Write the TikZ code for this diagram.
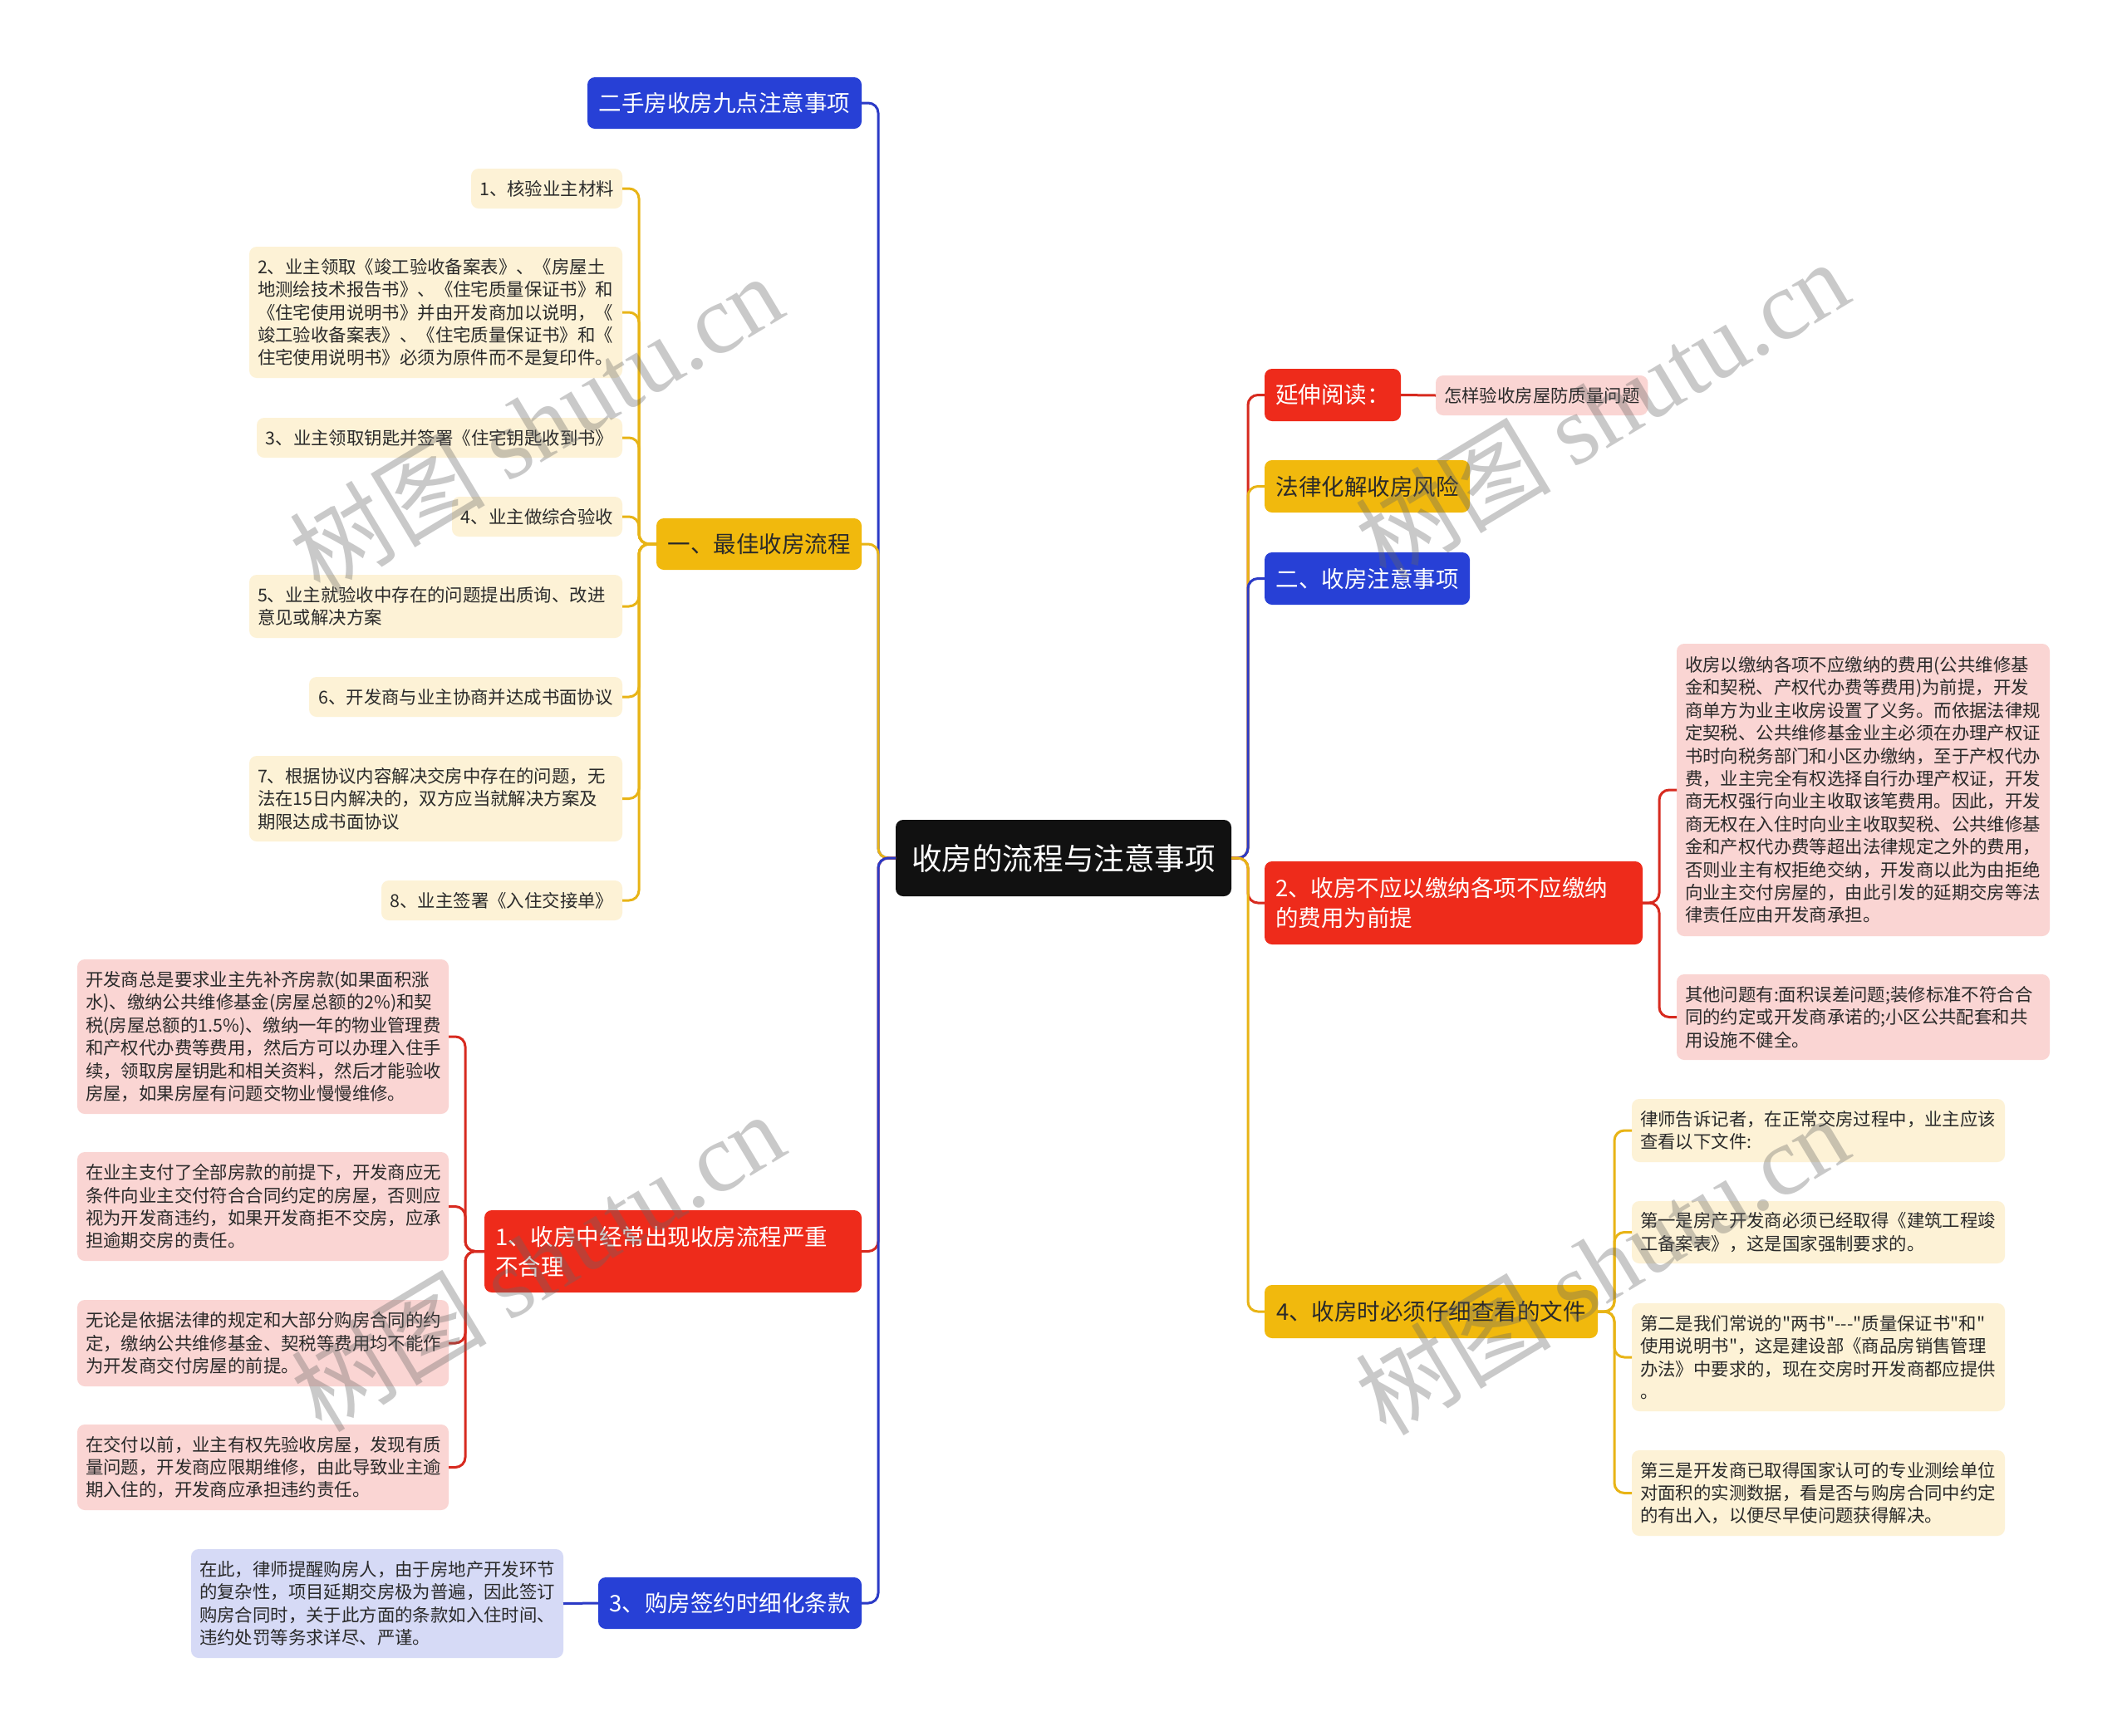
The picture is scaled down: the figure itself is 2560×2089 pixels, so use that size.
\documentclass[tikz,border=0pt]{standalone}
\usepackage{fontspec}
\setmainfont{Noto Sans CJK SC}
\newfontfamily\cjk{Noto Sans CJK SC}
\newfontfamily\wmfont{Liberation Serif}
\definecolor{cBlue}{HTML}{2740D6}
\definecolor{cRed}{HTML}{EE2B1B}
\definecolor{cYel}{HTML}{F1B90D}
\definecolor{lYel}{HTML}{FDF2D6}
\definecolor{lPink}{HTML}{FAD5D3}
\definecolor{lLav}{HTML}{D6DAF6}
\definecolor{cBlack}{HTML}{111111}
\definecolor{lnBlue}{HTML}{2B3AC6}
\definecolor{lnRed}{HTML}{D72A1F}
\definecolor{lnYel}{HTML}{E8B416}
\definecolor{txtD}{HTML}{2A2A2A}
\tikzset{
  nd/.style={rounded corners=9pt, inner ysep=0pt, outer sep=0pt, align=left},
  tw/.code 2 args={\pgfmathsetmacro\mytw{#1-2*#2}\edef\tmp{\noexpand\pgfkeysalso{minimum width=#1pt, text width=\mytw pt, inner xsep=#2pt}}\tmp},
  mainB/.style={nd, fill=cBlue, text=white, font=\cjk\fontsize{27.5}{36}\selectfont, inner xsep=13pt, minimum height=62pt},
  mainR/.style={nd, fill=cRed, text=white, font=\cjk\fontsize{27.5}{36}\selectfont, inner xsep=13pt, minimum height=62pt},
  mainY/.style={nd, fill=cYel, text=txtD, font=\cjk\fontsize{27.5}{36}\selectfont, inner xsep=13pt, minimum height=62pt},
  leafY/.style={nd, fill=lYel, text=txtD, font=\cjk\fontsize{21.4}{27.4}\selectfont, inner xsep=10pt},
  leafP/.style={nd, fill=lPink, text=txtD, font=\cjk\fontsize{21.4}{27.4}\selectfont, inner xsep=10pt},
  leafL/.style={nd, fill=lLav, text=txtD, font=\cjk\fontsize{21.4}{27.4}\selectfont, inner xsep=10pt},
  conn/.style={line width=3pt, rounded corners=12pt},
  wm/.style={text=black!60, text opacity=0.35, font=\fontsize{118}{124}\selectfont, rotate=31},
}
\begin{document}
\begin{tikzpicture}[x=1pt,y=-1pt]
\useasboundingbox[fill=white] (0,0) rectangle (2560,2089);

% centre
\node[nd, fill=cBlack, text=white, font=\cjk\fontsize{36.6}{44}\selectfont, minimum width=404pt, minimum height=92pt, align=center] (ctr) at (1280,1033) {收房的流程与注意事项};

% ---------- left side ----------
\node[mainB, anchor=north east, minimum width=330pt] (L0) at (1037,93) {二手房收房九点注意事项};
\node[mainY, anchor=north east, minimum width=247pt] (L1) at (1037,624) {一、最佳收房流程};
\node[mainR, anchor=north east, tw={454}{13}, minimum height=99pt] (L2) at (1037,1457) {1、收房中经常出现收房流程严重\\不合理};
\node[mainB, anchor=north east, minimum width=317pt] (L3) at (1037,1899) {3、购房签约时细化条款};

\node[leafY, anchor=north east, minimum width=182pt, minimum height=48pt, align=center] (c1) at (749,203) {1、核验业主材料};
\node[leafY, anchor=north east, tw={449}{10}, minimum height=158pt] (c2) at (749,297) {2、业主领取《竣工验收备案表》、《房屋土\\地测绘技术报告书》、《住宅质量保证书》和\\《住宅使用说明书》并由开发商加以说明，《\\竣工验收备案表》、《住宅质量保证书》和《\\住宅使用说明书》必须为原件而不是复印件。};
\node[leafY, anchor=north east, minimum width=440pt, minimum height=48pt, align=center] (c3) at (749,503) {3、业主领取钥匙并签署《住宅钥匙收到书》};
\node[leafY, anchor=north east, minimum width=205pt, minimum height=48pt, align=center] (c4) at (749,598) {4、业主做综合验收};
\node[leafY, anchor=north east, tw={449}{10}, minimum height=76pt] (c5) at (749,692) {5、业主就验收中存在的问题提出质询、改进\\意见或解决方案};
\node[leafY, anchor=north east, minimum width=377pt, minimum height=48pt, align=center] (c6) at (749,815) {6、开发商与业主协商并达成书面协议};
\node[leafY, anchor=north east, tw={449}{10}, minimum height=103pt] (c7) at (749,910) {7、根据协议内容解决交房中存在的问题，无\\法在15日内解决的，双方应当就解决方案及\\期限达成书面协议};
\node[leafY, anchor=north east, minimum width=290pt, minimum height=48pt, align=center] (c8) at (749,1060) {8、业主签署《入住交接单》};

\node[leafP, anchor=north east, tw={447}{10}, minimum height=186pt] (r1) at (540,1155) {开发商总是要求业主先补齐房款(如果面积涨\\水)、缴纳公共维修基金(房屋总额的2\%)和契\\税(房屋总额的1.5\%)、缴纳一年的物业管理费\\和产权代办费等费用，然后方可以办理入住手\\续，领取房屋钥匙和相关资料，然后才能验收\\房屋，如果房屋有问题交物业慢慢维修。};
\node[leafP, anchor=north east, tw={447}{10}, minimum height=131pt] (r2) at (540,1387) {在业主支付了全部房款的前提下，开发商应无\\条件向业主交付符合合同约定的房屋，否则应\\视为开发商违约，如果开发商拒不交房，应承\\担逾期交房的责任。};
\node[leafP, anchor=north east, tw={447}{10}, minimum height=104pt] (r3) at (540,1565) {无论是依据法律的规定和大部分购房合同的约\\定，缴纳公共维修基金、契税等费用均不能作\\为开发商交付房屋的前提。};
\node[leafP, anchor=north east, tw={447}{10}, minimum height=103pt] (r4) at (540,1715) {在交付以前，业主有权先验收房屋，发现有质\\量问题，开发商应限期维修，由此导致业主逾\\期入住的，开发商应承担违约责任。};

\node[leafL, anchor=north east, tw={448}{10}, minimum height=131pt] (b1) at (678,1865) {在此，律师提醒购房人，由于房地产开发环节\\的复杂性，项目延期交房极为普遍，因此签订\\购房合同时，关于此方面的条款如入住时间、\\违约处罚等务求详尽、严谨。};

% ---------- right side ----------
\node[mainR, anchor=north west, minimum width=164pt, minimum height=63pt] (R0) at (1522,444) {延伸阅读：};
\node[mainY, anchor=north west, minimum width=247pt, minimum height=63pt] (R1) at (1522,554) {法律化解收房风险};
\node[mainB, anchor=north west, minimum width=247pt, minimum height=63pt] (R2) at (1522,665) {二、收房注意事项};
\node[mainR, anchor=north west, tw={455}{13}, minimum height=100pt] (R3) at (1522,1037) {2、收房不应以缴纳各项不应缴纳\\的费用为前提};
\node[mainY, anchor=north west, minimum width=401pt, minimum height=64pt] (R4) at (1522,1547) {4、收房时必须仔细查看的文件};

\node[leafP, anchor=north west, minimum width=254pt, minimum height=48pt, align=center] (R0c) at (1728,452) {怎样验收房屋防质量问题};

\node[leafP, anchor=north west, tw={449}{10}, minimum height=352pt] (p1) at (2018,775) {收房以缴纳各项不应缴纳的费用(公共维修基\\金和契税、产权代办费等费用)为前提，开发\\商单方为业主收房设置了义务。而依据法律规\\定契税、公共维修基金业主必须在办理产权证\\书时向税务部门和小区办缴纳，至于产权代办\\费，业主完全有权选择自行办理产权证，开发\\商无权强行向业主收取该笔费用。因此，开发\\商无权在入住时向业主收取契税、公共维修基\\金和产权代办费等超出法律规定之外的费用，\\否则业主有权拒绝交纳，开发商以此为由拒绝\\向业主交付房屋的，由此引发的延期交房等法\\律责任应由开发商承担。};
\node[leafP, anchor=north west, tw={449}{10}, minimum height=103pt] (p2) at (2018,1173) {其他问题有:面积误差问题;装修标准不符合合\\同的约定或开发商承诺的;小区公共配套和共\\用设施不健全。};

\node[leafY, anchor=north west, tw={449}{10}, minimum height=76pt] (y1) at (1964,1323) {律师告诉记者，在正常交房过程中，业主应该\\查看以下文件:};
\node[leafY, anchor=north west, tw={449}{10}, minimum height=75pt] (y2) at (1964,1446) {第一是房产开发商必须已经取得《建筑工程竣\\工备案表》，这是国家强制要求的。};
\node[leafY, anchor=north west, tw={449}{10}, minimum height=130pt] (y3) at (1964,1569) {第二是我们常说的"两书"---"质量保证书"和"\\使用说明书"，这是建设部《商品房销售管理\\办法》中要求的，现在交房时开发商都应提供\\。};
\node[leafY, anchor=north west, tw={449}{10}, minimum height=103pt] (y4) at (1964,1746) {第三是开发商已取得国家认可的专业测绘单位\\对面积的实测数据，看是否与购房合同中约定\\的有出入，以便尽早使问题获得解决。};

% ---------- connectors: main ----------
\draw[conn, lnBlue] (ctr.west) -- ++(-21,0) |- (L0.east);
\draw[conn, lnYel]  (ctr.west) -- ++(-21,0) |- (L1.east);
\draw[conn, lnRed]  (ctr.west) -- ++(-21,0) |- (L2.east);
\draw[conn, lnBlue] (ctr.west) -- ++(-21,0) |- (L3.east);

\draw[conn, lnRed]  (ctr.east) -- ++(20,0) |- (R0.west);
\draw[conn, lnYel]  (ctr.east) -- ++(20,0) |- (R1.west);
\draw[conn, lnBlue] (ctr.east) -- ++(20,0) |- (R2.west);
\draw[conn, lnRed]  (ctr.east) -- ++(20,0) |- (R3.west);
\draw[conn, lnYel]  (ctr.east) -- ++(20,0) |- (R4.west);

% ---------- connectors: leaves ----------
\foreach \c in {c1,c2,c3,c4,c5,c6,c7,c8}
  \draw[conn, lnYel] (L1.west) -- ++(-21,0) |- (\c.east);
\foreach \c in {r1,r2,r3,r4}
  \draw[conn, lnRed] (L2.west) -- ++(-23,0) |- (\c.east);
\draw[conn, lnBlue] (L3.west) -- (b1.east);
\draw[conn, lnRed] (R0.east) -- (R0c.west);
\foreach \c in {p1,p2}
  \draw[conn, lnRed] (R3.east) -- ++(20,0) |- (\c.west);
\foreach \c in {y1,y2,y3,y4}
  \draw[conn, lnYel] (R4.east) -- ++(20,0) |- (\c.west);

% ---------- watermarks ----------
\node[wm] (w1) at (645,509) {{\cjk 树图} {\wmfont shutu.cn}};
\node[wm] (w2) at (1928,492) {{\cjk 树图} {\wmfont shutu.cn}};
\node[wm] (w3) at (647,1518) {{\cjk 树图} {\wmfont shutu.cn}};
\node[wm] (w4) at (1928,1522) {{\cjk 树图} {\wmfont shutu.cn}};
\end{tikzpicture}
\end{document}
